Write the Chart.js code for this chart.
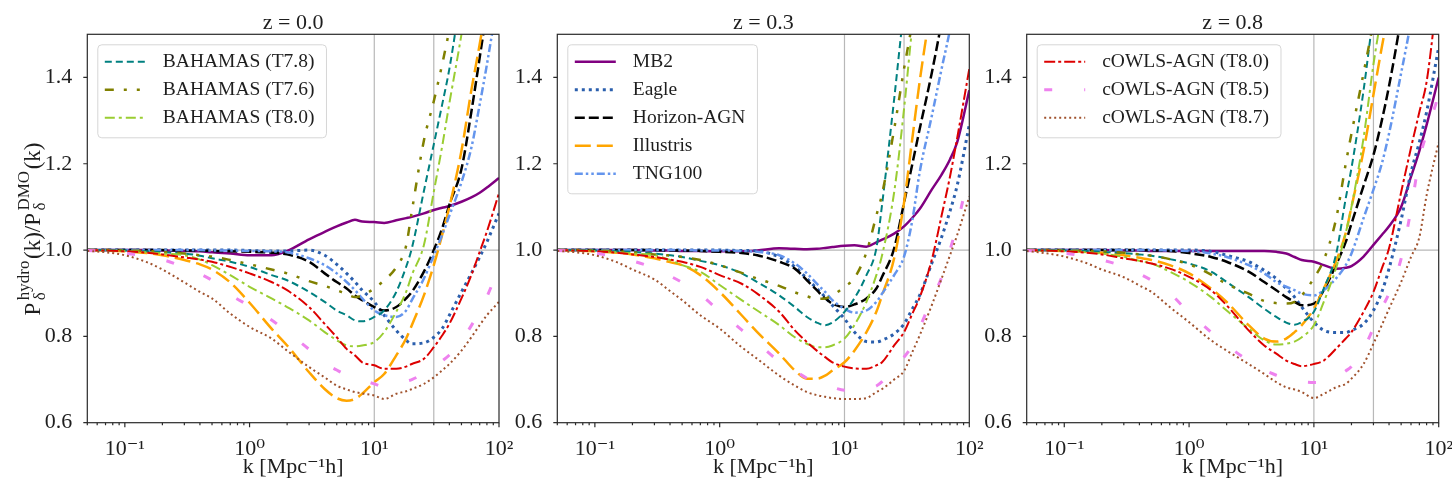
<!DOCTYPE html>
<html>
<head>
<meta charset="utf-8">
<script src="https://cdn.jsdelivr.net/npm/chart.js@4.4.1/dist/chart.umd.min.js"></script>
<style>
  html, body { margin: 0; padding: 0; background: #fff; }
  #wrap { position: relative; width: 1452px; height: 484px; overflow: hidden; }
  canvas { position: absolute; top: 0; }
</style>
</head>
<body>
<div id="wrap">
  <canvas id="c0" width="530" height="484" style="left:0px"></canvas>
  <canvas id="c1" width="495" height="484" style="left:505px"></canvas>
  <canvas id="c2" width="477" height="484" style="left:975px"></canvas>
</div>
<script>
// k [Mpc^-1 h] sample points, shared by every curve
const kValues = [0.05, 0.07, 0.1, 0.15, 0.2, 0.3, 0.4, 0.5, 0.7, 1, 1.5, 2, 3, 4, 5, 6, 7, 8,
  10, 12, 15, 18, 20, 25, 30, 35, 40, 50, 60, 70, 80, 100];

// each series: [z=0.0, z=0.3, z=0.8]
const mb2 = [
  [1, 1, 1, 1, 0.999, 0.998, 0.997, 0.995, 0.992, 0.988, 0.988, 0.998, 1.025, 1.042, 1.055, 1.064, 1.07, 1.066, 1.065, 1.063, 1.069, 1.074, 1.077, 1.085, 1.093, 1.098, 1.102, 1.112, 1.122, 1.133, 1.145, 1.167],
  [1, 1, 1, 1, 1, 0.999, 0.999, 0.998, 0.998, 0.997, 0.997, 0.999, 1.004, 1.003, 1.002, 1.003, 1.005, 1.007, 1.01, 1.011, 1.008, 1.018, 1.024, 1.038, 1.055, 1.075, 1.095, 1.14, 1.175, 1.21, 1.25, 1.37],
  [1, 1, 1, 1, 1, 0.999, 0.999, 0.998, 0.998, 0.998, 0.998, 0.998, 0.998, 0.998, 0.996, 0.992, 0.984, 0.977, 0.973, 0.965, 0.957, 0.959, 0.963, 0.985, 1.012, 1.035, 1.055, 1.1, 1.17, 1.23, 1.29, 1.4]
];
const eagle = [
  [1, 1, 1, 1, 1, 1, 1, 1, 1, 0.999, 0.998, 0.998, 1.0, 0.988, 0.967, 0.946, 0.926, 0.907, 0.88, 0.849, 0.814, 0.791, 0.783, 0.785, 0.798, 0.818, 0.849, 0.903, 0.946, 0.984, 1.019, 1.085],
  [1, 1, 1, 1, 1, 1, 1, 1, 1, 1, 0.999, 0.998, 0.984, 0.961, 0.934, 0.911, 0.891, 0.872, 0.841, 0.81, 0.788, 0.787, 0.791, 0.806, 0.829, 0.864, 0.895, 0.969, 1.03, 1.09, 1.15, 1.29],
  [1, 1, 1, 1, 1, 1, 1, 1, 1, 1, 0.997, 0.988, 0.973, 0.953, 0.934, 0.911, 0.891, 0.868, 0.833, 0.814, 0.809, 0.809, 0.814, 0.829, 0.86, 0.903, 0.957, 1.07, 1.18, 1.25, 1.32, 1.47]
];
const horizon = [
  [1, 1, 1, 1, 1, 0.999, 0.999, 0.998, 0.997, 0.996, 0.994, 0.99, 0.973, 0.946, 0.926, 0.911, 0.895, 0.884, 0.868, 0.86, 0.868, 0.888, 0.903, 0.95, 1.0, 1.05, 1.105, 1.188, 1.32, 1.446, 1.56, 1.8],
  [1, 1, 1, 1, 1, 1, 0.999, 0.999, 0.998, 0.996, 0.993, 0.988, 0.973, 0.957, 0.93, 0.907, 0.888, 0.876, 0.868, 0.874, 0.888, 0.911, 0.938, 1.004, 1.11, 1.2, 1.28, 1.41, 1.53, 1.65, 1.75, 2.0],
  [1, 1, 1, 1, 1, 1, 1, 0.999, 0.998, 0.993, 0.984, 0.973, 0.95, 0.926, 0.907, 0.891, 0.88, 0.872, 0.876, 0.907, 0.965, 1.019, 1.061, 1.149, 1.22, 1.3, 1.38, 1.54, 1.7, 1.85, 2.0, 2.2]
];
const illustris = [
  [1, 0.999, 0.997, 0.993, 0.988, 0.977, 0.967, 0.955, 0.925, 0.878, 0.818, 0.779, 0.717, 0.678, 0.657, 0.651, 0.655, 0.667, 0.694, 0.713, 0.756, 0.795, 0.826, 0.895, 0.965, 1.035, 1.1, 1.23, 1.37, 1.477, 1.58, 1.8],
  [1, 0.999, 0.997, 0.994, 0.99, 0.981, 0.972, 0.965, 0.942, 0.903, 0.849, 0.81, 0.76, 0.721, 0.702, 0.702, 0.709, 0.721, 0.74, 0.767, 0.81, 0.857, 0.895, 0.981, 1.11, 1.26, 1.39, 1.58, 1.75, 1.9, 2.0, 2.2],
  [1, 0.999, 0.998, 0.996, 0.994, 0.988, 0.982, 0.977, 0.965, 0.946, 0.911, 0.88, 0.826, 0.795, 0.788, 0.795, 0.81, 0.826, 0.864, 0.911, 0.973, 1.04, 1.1, 1.23, 1.36, 1.47, 1.56, 1.75, 1.9, 2.0, 2.1, 2.3]
];
const tng100 = [
  [1, 1, 1, 1, 1, 1, 1, 0.999, 0.999, 0.998, 0.997, 0.995, 0.981, 0.965, 0.946, 0.926, 0.907, 0.888, 0.86, 0.849, 0.845, 0.86, 0.884, 0.934, 0.988, 1.035, 1.08, 1.157, 1.237, 1.337, 1.43, 1.6],
  [1, 1, 1, 1, 1, 1, 1, 1, 0.999, 0.999, 0.998, 0.996, 0.988, 0.969, 0.946, 0.922, 0.903, 0.884, 0.864, 0.855, 0.86, 0.88, 0.899, 0.942, 0.985, 1.07, 1.18, 1.31, 1.42, 1.51, 1.6, 1.8],
  [1, 1, 1, 1, 1, 1, 1, 1, 0.999, 0.998, 0.992, 0.984, 0.965, 0.946, 0.926, 0.915, 0.907, 0.899, 0.895, 0.907, 0.934, 0.965, 0.992, 1.074, 1.14, 1.2, 1.27, 1.41, 1.53, 1.65, 1.75, 1.95]
];
const bahamas78 = [
  [1, 1, 0.999, 0.997, 0.995, 0.992, 0.987, 0.981, 0.973, 0.961, 0.942, 0.93, 0.903, 0.88, 0.86, 0.849, 0.837, 0.835, 0.845, 0.86, 0.903, 0.961, 1.004, 1.137, 1.245, 1.337, 1.42, 1.6, 1.75, 1.9, 2.0, 2.2],
  [1, 1, 0.999, 0.997, 0.996, 0.992, 0.988, 0.984, 0.975, 0.965, 0.946, 0.926, 0.895, 0.868, 0.845, 0.832, 0.826, 0.832, 0.857, 0.888, 0.942, 1.004, 1.105, 1.35, 1.56, 1.7, 1.85, 2.0, 2.2, 2.3, 2.4, 2.6],
  [1, 1, 0.999, 0.998, 0.996, 0.993, 0.99, 0.987, 0.979, 0.969, 0.95, 0.926, 0.891, 0.864, 0.845, 0.832, 0.827, 0.833, 0.857, 0.911, 0.988, 1.12, 1.19, 1.37, 1.55, 1.7, 1.85, 2.0, 2.2, 2.3, 2.4, 2.6]
];
const bahamas76 = [
  [1, 1, 0.999, 0.998, 0.996, 0.992, 0.988, 0.985, 0.977, 0.967, 0.955, 0.946, 0.928, 0.917, 0.907, 0.898, 0.891, 0.895, 0.911, 0.93, 0.96, 1.01, 1.09, 1.254, 1.345, 1.43, 1.51, 1.65, 1.8, 1.9, 2.0, 2.2],
  [1, 1, 0.999, 0.997, 0.995, 0.99, 0.987, 0.984, 0.977, 0.965, 0.947, 0.934, 0.917, 0.902, 0.893, 0.887, 0.888, 0.895, 0.915, 0.935, 0.995, 1.08, 1.13, 1.28, 1.42, 1.53, 1.65, 1.8, 1.95, 2.05, 2.15, 2.3],
  [1, 1, 0.999, 0.998, 0.997, 0.994, 0.99, 0.987, 0.979, 0.967, 0.943, 0.921, 0.899, 0.882, 0.877, 0.876, 0.88, 0.895, 0.935, 0.977, 1.07, 1.2, 1.27, 1.41, 1.53, 1.65, 1.75, 1.9, 2.05, 2.15, 2.25, 2.4]
];
const bahamas80 = [
  [1, 0.999, 0.998, 0.995, 0.992, 0.988, 0.978, 0.965, 0.942, 0.915, 0.888, 0.868, 0.837, 0.81, 0.791, 0.779, 0.777, 0.779, 0.787, 0.81, 0.857, 0.903, 0.942, 1.012, 1.135, 1.24, 1.34, 1.5, 1.65, 1.8, 1.9, 2.1],
  [1, 0.999, 0.998, 0.995, 0.992, 0.988, 0.977, 0.965, 0.95, 0.919, 0.884, 0.86, 0.826, 0.798, 0.783, 0.775, 0.775, 0.779, 0.795, 0.826, 0.88, 0.942, 0.988, 1.134, 1.327, 1.52, 1.65, 1.85, 2.0, 2.1, 2.2, 2.4],
  [1, 0.999, 0.998, 0.995, 0.992, 0.984, 0.975, 0.969, 0.95, 0.926, 0.891, 0.86, 0.818, 0.791, 0.781, 0.783, 0.788, 0.798, 0.826, 0.88, 0.957, 1.04, 1.1, 1.26, 1.43, 1.55, 1.65, 1.85, 2.0, 2.1, 2.2, 2.4]
];
const cowls80 = [
  [1, 0.999, 0.997, 0.994, 0.99, 0.983, 0.978, 0.973, 0.961, 0.946, 0.926, 0.907, 0.868, 0.829, 0.798, 0.771, 0.756, 0.74, 0.733, 0.725, 0.725, 0.73, 0.736, 0.748, 0.775, 0.802, 0.829, 0.888, 0.942, 0.996, 1.043, 1.132],
  [1, 0.999, 0.997, 0.994, 0.99, 0.984, 0.978, 0.973, 0.961, 0.942, 0.922, 0.899, 0.857, 0.814, 0.787, 0.767, 0.752, 0.74, 0.73, 0.726, 0.725, 0.733, 0.74, 0.779, 0.81, 0.853, 0.89, 0.977, 1.08, 1.17, 1.26, 1.42],
  [1, 0.999, 0.997, 0.994, 0.99, 0.981, 0.975, 0.969, 0.957, 0.938, 0.907, 0.872, 0.814, 0.779, 0.76, 0.744, 0.736, 0.731, 0.736, 0.744, 0.771, 0.795, 0.81, 0.857, 0.903, 0.957, 1.004, 1.134, 1.237, 1.32, 1.39, 1.62]
];
const cowls85 = [
  [0.999, 0.997, 0.993, 0.985, 0.978, 0.96, 0.945, 0.93, 0.897, 0.87, 0.838, 0.81, 0.77, 0.738, 0.722, 0.71, 0.703, 0.698, 0.69, 0.683, 0.688, 0.696, 0.7, 0.714, 0.729, 0.743, 0.757, 0.79, 0.825, 0.858, 0.892, 0.96],
  [0.999, 0.997, 0.993, 0.984, 0.975, 0.958, 0.94, 0.925, 0.897, 0.858, 0.815, 0.785, 0.742, 0.72, 0.703, 0.692, 0.686, 0.682, 0.675, 0.674, 0.677, 0.685, 0.695, 0.727, 0.752, 0.78, 0.82, 0.885, 0.937, 1.0, 1.06, 1.18],
  [0.999, 0.997, 0.993, 0.985, 0.977, 0.962, 0.945, 0.93, 0.9, 0.855, 0.81, 0.78, 0.743, 0.722, 0.71, 0.703, 0.698, 0.695, 0.693, 0.694, 0.705, 0.72, 0.73, 0.77, 0.82, 0.865, 0.9, 0.98, 1.095, 1.21, 1.27, 1.36]
];
const cowls87 = [
  [0.998, 0.995, 0.988, 0.972, 0.955, 0.925, 0.903, 0.888, 0.853, 0.822, 0.795, 0.767, 0.729, 0.705, 0.686, 0.677, 0.671, 0.668, 0.663, 0.655, 0.667, 0.673, 0.678, 0.69, 0.705, 0.721, 0.736, 0.767, 0.798, 0.826, 0.849, 0.88],
  [0.998, 0.995, 0.988, 0.972, 0.955, 0.932, 0.905, 0.884, 0.849, 0.818, 0.775, 0.748, 0.709, 0.686, 0.671, 0.664, 0.66, 0.657, 0.655, 0.655, 0.657, 0.671, 0.678, 0.7, 0.72, 0.764, 0.802, 0.872, 0.934, 0.988, 1.035, 1.124],
  [0.998, 0.993, 0.985, 0.97, 0.955, 0.937, 0.918, 0.903, 0.868, 0.833, 0.791, 0.767, 0.736, 0.713, 0.694, 0.682, 0.677, 0.671, 0.657, 0.667, 0.682, 0.69, 0.702, 0.736, 0.783, 0.826, 0.864, 0.926, 0.984, 1.03, 1.127, 1.25]
];

const seriesNames = ['MB2', 'Eagle', 'Horizon-AGN', 'Illustris', 'TNG100',
  'BAHAMAS (T7.8)', 'BAHAMAS (T7.6)', 'BAHAMAS (T8.0)',
  'cOWLS-AGN (T8.0)', 'cOWLS-AGN (T8.5)', 'cOWLS-AGN (T8.7)'];
const seriesData = [mb2, eagle, horizon, illustris, tng100,
  bahamas78, bahamas76, bahamas80, cowls80, cowls85, cowls87];

const panelTitles = ['z = 0.0', 'z = 0.3', 'z = 0.8'];
const legendRows = [[5, 6, 7], [0, 1, 2, 3, 4], [8, 9, 10]];
const yTicks = [0.6, 0.8, 1.0, 1.2, 1.4];
const xMajorTicks = [0.1, 1, 10, 100];
const xTickLabels = ['10\u207B\u00B9', '10\u2070', '10\u00B9', '10\u00B2'];
const refK = [10, 30];
const refRatio = 1.0;

const styles = [
  { color: '#800080', width: 2.5, dash: [] },
  { color: '#2b5fad', width: 3, dash: [3, 4] },
  { color: '#000000', width: 2.5, dash: [10, 4] },
  { color: '#ffa500', width: 2.5, dash: [16, 6] },
  { color: '#6495ed', width: 2.5, dash: [8, 3, 2.5, 3, 2.5, 3] },
  { color: '#008080', width: 2, dash: [7, 4] },
  { color: '#808000', width: 2.5, dash: [9, 10, 3, 10, 3, 10] },
  { color: '#9acd32', width: 2, dash: [10, 4, 3, 4] },
  { color: '#dd0000', width: 2, dash: [11, 3, 3, 3] },
  { color: '#ee82ee', width: 3, dash: [8, 32] },
  { color: '#a0522d', width: 2, dash: [2, 3] }
];

const SERIF = '"Liberation Serif", "DejaVu Serif", serif';
const INK = '#1e1e1e';

// canvas left offsets: 0, 505, 975; plot frames at 87.3-499, 557.3-969.3, 1026.7-1438.7
const panels = [
  { id: 'c0', areaLeft: 87.3, padRight: 530 - 499, yTitle: true },
  { id: 'c1', areaLeft: 557.3 - 505, padRight: 1000 - 969.3, yTitle: false },
  { id: 'c2', areaLeft: 1026.7 - 975, padRight: 1452 - 1438.7, yTitle: false }
];

function drawLegend(ctx, area, rows) {
  ctx.save();
  ctx.font = `19.5px ${SERIF}`;
  const left = area.left + 10.5, top = area.top + 10.5;
  const textW = Math.max(...rows.map(i => ctx.measureText(seriesNames[i]).width));
  const w = 65 + textW + 12;
  const h = 17 + (rows.length - 1) * 28 + 20;
  ctx.beginPath();
  ctx.roundRect(left, top, w, h, 4);
  ctx.fillStyle = 'rgba(255,255,255,0.8)';
  ctx.fill();
  ctx.strokeStyle = '#d6d6d6';
  ctx.lineWidth = 1;
  ctx.stroke();
  rows.forEach((i, r) => {
    const yy = top + 17 + r * 28;
    const st = styles[i];
    ctx.beginPath();
    ctx.setLineDash(st.dash);
    ctx.strokeStyle = st.color;
    ctx.lineWidth = st.width;
    ctx.moveTo(left + 7, yy);
    ctx.lineTo(left + 48, yy);
    ctx.stroke();
    ctx.setLineDash([]);
    ctx.fillStyle = INK;
    ctx.textBaseline = 'middle';
    ctx.textAlign = 'left';
    ctx.fillText(seriesNames[i], left + 65, yy);
  });
  ctx.restore();
}

function drawYTitle(ctx, cx, cy) {
  const big = `23px ${SERIF}`, small = `17px ${SERIF}`;
  const parts = [
    { text: 'P' }, { sup: 'hydro', sub: '\u03B4' },
    { text: '(k)/P' }, { sup: 'DMO', sub: '\u03B4' }, { text: '(k)' }
  ];
  parts.forEach(p => {
    if (p.text) { ctx.font = big; p.w = ctx.measureText(p.text).width + 1; }
    else { ctx.font = small; p.w = Math.max(ctx.measureText(p.sup).width, ctx.measureText(p.sub).width) + 3; }
  });
  const total = parts.reduce((s, p) => s + p.w, 0);
  ctx.save();
  ctx.translate(cx, cy);
  ctx.rotate(-Math.PI / 2);
  ctx.fillStyle = INK;
  ctx.textBaseline = 'alphabetic';
  ctx.textAlign = 'left';
  let x = -total / 2;
  parts.forEach(p => {
    if (p.text) { ctx.font = big; ctx.fillText(p.text, x, 0); }
    else {
      ctx.font = small;
      ctx.fillText(p.sup, x + 1.5, -11);
      ctx.fillText(p.sub, x + 1.5, 5);
    }
    x += p.w;
  });
  ctx.restore();
}

const decor = {
  id: 'decor',
  beforeDatasetsDraw(chart) {
    const { ctx, chartArea: a, scales: { x, y } } = chart;
    ctx.save();
    ctx.strokeStyle = '#b8b8b8';
    ctx.lineWidth = 1.2;
    ctx.beginPath();
    refK.forEach(v => {
      const px = x.getPixelForValue(v);
      ctx.moveTo(px, a.top); ctx.lineTo(px, a.bottom);
    });
    const py = y.getPixelForValue(refRatio);
    ctx.moveTo(a.left, py); ctx.lineTo(a.right, py);
    ctx.stroke();
    ctx.restore();
  },
  afterDatasetsDraw(chart, args, opts) {
    const { ctx, chartArea: a, scales: { x, y } } = chart;
    ctx.save();
    ctx.strokeStyle = '#2a2a2a';
    ctx.lineWidth = 1.2;
    ctx.strokeRect(a.left, a.top, a.right - a.left, a.bottom - a.top);
    // x ticks, major and minor, pointing out
    ctx.beginPath();
    for (let e = -2; e <= 2; e++) {
      for (let m = 1; m <= 9; m++) {
        const v = m * Math.pow(10, e);
        if (v < x.min - 1e-9 || v > x.max + 1e-9) continue;
        const px = x.getPixelForValue(v);
        ctx.moveTo(px, a.bottom);
        ctx.lineTo(px, a.bottom + (m === 1 ? 4.5 : 2.5));
      }
    }
    yTicks.forEach(v => {
      const py = y.getPixelForValue(v);
      ctx.moveTo(a.left - 4, py); ctx.lineTo(a.left, py);
    });
    ctx.stroke();
    ctx.restore();

    drawLegend(ctx, a, opts.rows);

    ctx.save();
    ctx.font = `22px ${SERIF}`;
    ctx.fillStyle = INK;
    ctx.textAlign = 'center';
    ctx.textBaseline = 'alphabetic';
    ctx.fillText(opts.title, (a.left + a.right) / 2, 29);
    ctx.restore();

    if (opts.yTitle) drawYTitle(ctx, 40, (a.top + a.bottom) / 2);
  }
};

panels.forEach((p, pi) => {
  const n = seriesData.length;
  new Chart(document.getElementById(p.id), {
    type: 'line',
    data: {
      datasets: seriesData.map((s, i) => ({
        label: seriesNames[i],
        data: kValues.map((k, j) => ({ x: k, y: s[pi][j] })),
        borderColor: styles[i].color,
        borderWidth: styles[i].width,
        borderDash: styles[i].dash,
        pointRadius: 0,
        fill: false,
        cubicInterpolationMode: 'monotone',
        clip: 0,
        order: n - i
      }))
    },
    options: {
      responsive: false,
      animation: false,
      devicePixelRatio: 1,
      layout: { padding: { top: 34.3, right: p.padRight, left: 0, bottom: 0 } },
      plugins: {
        legend: { display: false },
        tooltip: { enabled: false },
        decor: { rows: legendRows[pi], title: panelTitles[pi], yTitle: p.yTitle }
      },
      scales: {
        x: {
          type: 'logarithmic',
          min: 0.05,
          max: 100,
          afterBuildTicks: s => { s.ticks = xMajorTicks.map(v => ({ value: v })); },
          afterFit: s => { s.height = 61.3; s.paddingLeft = 0; s.paddingRight = 0; },
          grid: { display: false },
          border: { display: false },
          ticks: {
            autoSkip: false, maxRotation: 0, minRotation: 0, padding: 5, color: INK,
            font: { family: SERIF, size: 22 },
            callback: v => { const i = xMajorTicks.indexOf(v); return i >= 0 ? xTickLabels[i] : ''; }
          },
          title: {
            display: true, text: 'k [Mpc\u207B\u00B9h]', color: INK,
            font: { family: SERIF, size: 22 }, padding: { top: 0, bottom: 4 }
          }
        },
        y: {
          type: 'linear',
          min: 0.6,
          max: 1.5,
          afterBuildTicks: s => { s.ticks = yTicks.map(v => ({ value: v })); },
          afterFit: s => { s.width = p.areaLeft; s.paddingTop = 0; s.paddingBottom = 0; },
          grid: { display: false },
          border: { display: false },
          ticks: {
            padding: 7, color: INK,
            font: { family: SERIF, size: 22 },
            callback: v => v.toFixed(1)
          }
        }
      }
    },
    plugins: [decor]
  });
});
</script>
</body>
</html>
